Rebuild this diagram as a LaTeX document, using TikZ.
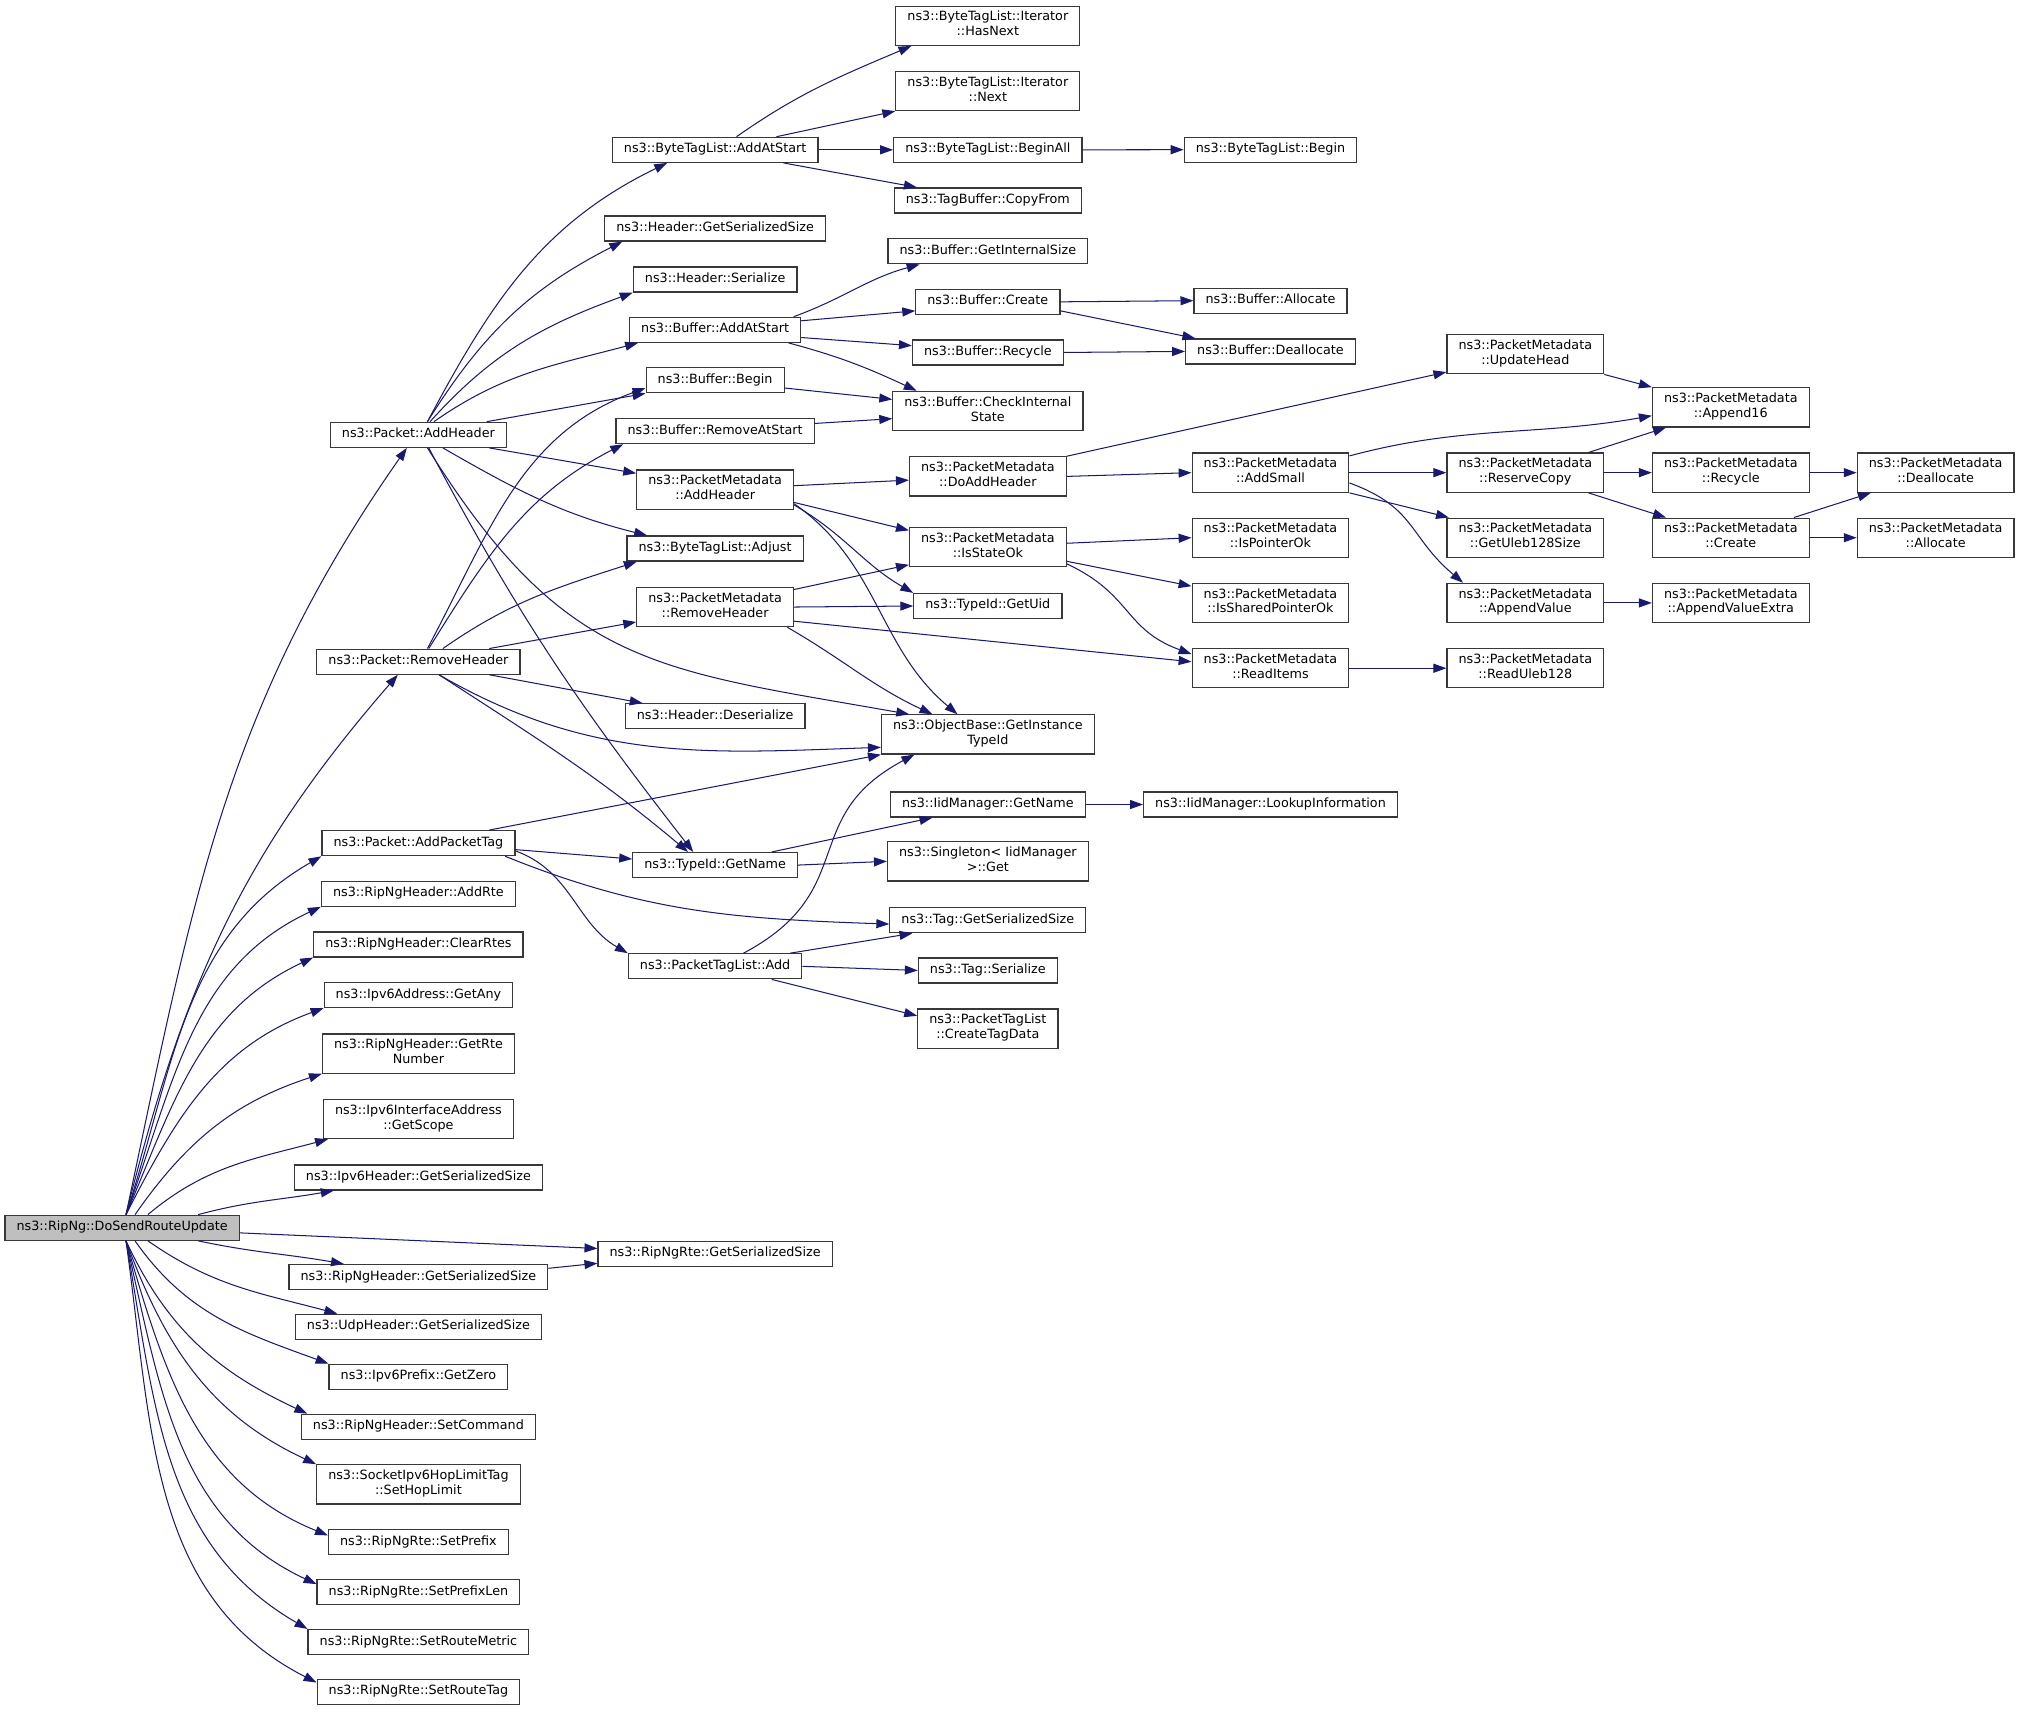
\documentclass[tikz,border=0pt]{standalone}
\usepackage{fontspec}
\setmainfont{DejaVu Sans}
\usetikzlibrary{arrows.meta}
\definecolor{edgeblue}{HTML}{191970}

\begin{document}
\begin{tikzpicture}[x=1pt,y=1pt,
    >={Triangle[length=10pt,width=7pt]},
    fn/.style={draw=black!78,line width=0.95pt,fill=white,inner xsep=9pt,inner ysep=3.9pt,
        align=center,font=\fontsize{9.9}{11.6}\selectfont,
        execute at begin node=\strut,execute at end node=\strut},
    root/.style={fn,fill=black!25},
    call/.style={->,draw=edgeblue,line width=0.8pt}]
    \useasboundingbox (0,0) rectangle (1568,-1334.4);

    \node[root] (dsru) at (94.8,-953) {ns3::RipNg::DoSendRouteUpdate};

    \node[fn] (pAddHeader) at (324.8,-337.5) {ns3::Packet::AddHeader};
    \node[fn] (pRemoveHeader) at (324.8,-513.6) {ns3::Packet::RemoveHeader};
    \node[fn] (pAddPacketTag) at (324.8,-654.5) {ns3::Packet::AddPacketTag};
    \node[fn] (hAddRte) at (324.8,-693.7) {ns3::RipNgHeader::AddRte};
    \node[fn] (hClearRtes) at (324.8,-733.1) {ns3::RipNgHeader::ClearRtes};
    \node[fn] (aGetAny) at (324.8,-772.4) {ns3::Ipv6Address::GetAny};
    \node[fn] (hGetRteNumber) at (324.8,-817.8) {ns3::RipNgHeader::GetRte\\Number};
    \node[fn] (iGetScope) at (324.8,-868.6) {ns3::Ipv6InterfaceAddress\\::GetScope};
    \node[fn] (i6GetSerSize) at (324.8,-914) {ns3::Ipv6Header::GetSerializedSize};
    \node[fn] (hGetSerSize) at (324.8,-991.3) {ns3::RipNgHeader::GetSerializedSize};
    \node[fn] (uGetSerSize) at (324.8,-1029.9) {ns3::UdpHeader::GetSerializedSize};
    \node[fn] (pGetZero) at (324.8,-1068.7) {ns3::Ipv6Prefix::GetZero};
    \node[fn] (hSetCommand) at (324.8,-1107.5) {ns3::RipNgHeader::SetCommand};
    \node[fn] (tSetHopLimit) at (324.8,-1152.2) {ns3::SocketIpv6HopLimitTag\\::SetHopLimit};
    \node[fn] (rSetPrefix) at (324.8,-1197) {ns3::RipNgRte::SetPrefix};
    \node[fn] (rSetPrefixLen) at (324.8,-1235.8) {ns3::RipNgRte::SetPrefixLen};
    \node[fn] (rSetRouteMetric) at (324.8,-1274.6) {ns3::RipNgRte::SetRouteMetric};
    \node[fn] (rSetRouteTag) at (324.8,-1313.2) {ns3::RipNgRte::SetRouteTag};

    \node[fn] (btlAddAtStart) at (555.1,-116.3) {ns3::ByteTagList::AddAtStart};
    \node[fn] (hdrGetSerSize) at (555.1,-177.4) {ns3::Header::GetSerializedSize};
    \node[fn] (hdrSerialize) at (555.1,-217) {ns3::Header::Serialize};
    \node[fn] (bufAddAtStart) at (555.1,-256) {ns3::Buffer::AddAtStart};
    \node[fn] (bufBegin) at (555.1,-295.2) {ns3::Buffer::Begin};
    \node[fn] (bufRemoveAtStart) at (555.1,-334.7) {ns3::Buffer::RemoveAtStart};
    \node[fn] (pmAddHeader) at (555.1,-380) {ns3::PacketMetadata\\::AddHeader};
    \node[fn] (btlAdjust) at (555.1,-425.8) {ns3::ByteTagList::Adjust};
    \node[fn] (pmRemoveHeader) at (555.1,-471.2) {ns3::PacketMetadata\\::RemoveHeader};
    \node[fn] (hdrDeserialize) at (555.1,-556) {ns3::Header::Deserialize};
    \node[fn] (tidGetName) at (555.1,-671.5) {ns3::TypeId::GetName};
    \node[fn] (ptlAdd) at (555.1,-750.1) {ns3::PacketTagList::Add};
    \node[fn] (rteGetSerSize) at (555.1,-973.1) {ns3::RipNgRte::GetSerializedSize};

    \node[fn] (itHasNext) at (766.8,-20) {ns3::ByteTagList::Iterator\\::HasNext};
    \node[fn] (itNext) at (766.8,-70.6) {ns3::ByteTagList::Iterator\\::Next};
    \node[fn] (btlBeginAll) at (766.8,-116.3) {ns3::ByteTagList::BeginAll};
    \node[fn] (tbCopyFrom) at (766.8,-155.6) {ns3::TagBuffer::CopyFrom};
    \node[fn] (bufGetInternalSize) at (766.8,-195.1) {ns3::Buffer::GetInternalSize};
    \node[fn] (bufCreate) at (766.8,-234.3) {ns3::Buffer::Create};
    \node[fn] (bufRecycle) at (766.8,-273.6) {ns3::Buffer::Recycle};
    \node[fn] (bufCheckInternal) at (766.8,-319) {ns3::Buffer::CheckInternal\\State};
    \node[fn] (pmDoAddHeader) at (766.8,-369.8) {ns3::PacketMetadata\\::DoAddHeader};
    \node[fn] (pmIsStateOk) at (766.8,-424.7) {ns3::PacketMetadata\\::IsStateOk};
    \node[fn] (tidGetUid) at (766.8,-470.4) {ns3::TypeId::GetUid};
    \node[fn] (obGetInstanceTypeId) at (766.8,-570.1) {ns3::ObjectBase::GetInstance\\TypeId};
    \node[fn] (iidGetName) at (766.8,-624.5) {ns3::IidManager::GetName};
    \node[fn] (sgGet) at (766.8,-668.6) {ns3::Singleton< IidManager\\>::Get};
    \node[fn] (tagGetSerSize) at (766.8,-714.3) {ns3::Tag::GetSerializedSize};
    \node[fn] (tagSerialize) at (766.8,-753.3) {ns3::Tag::Serialize};
    \node[fn] (ptlCreateTagData) at (766.8,-798.5) {ns3::PacketTagList\\::CreateTagData};

    \node[fn] (btlBegin) at (986.2,-116.2) {ns3::ByteTagList::Begin};
    \node[fn] (bufAllocate) at (986.2,-233.4) {ns3::Buffer::Allocate};
    \node[fn] (bufDeallocate) at (986.2,-272.8) {ns3::Buffer::Deallocate};
    \node[fn] (pmAddSmall) at (986.2,-366.9) {ns3::PacketMetadata\\::AddSmall};
    \node[fn] (pmIsPointerOk) at (986.2,-417.4) {ns3::PacketMetadata\\::IsPointerOk};
    \node[fn] (pmIsSharedPointerOk) at (986.2,-468) {ns3::PacketMetadata\\::IsSharedPointerOk};
    \node[fn] (pmReadItems) at (986.2,-518.7) {ns3::PacketMetadata\\::ReadItems};
    \node[fn] (iidLookup) at (986.2,-624.5) {ns3::IidManager::LookupInformation};

    \node[fn] (pmUpdateHead) at (1184,-275) {ns3::PacketMetadata\\::UpdateHead};
    \node[fn] (pmReserveCopy) at (1184,-366.9) {ns3::PacketMetadata\\::ReserveCopy};
    \node[fn] (pmGetUleb128Size) at (1184,-417.4) {ns3::PacketMetadata\\::GetUleb128Size};
    \node[fn] (pmAppendValue) at (1184,-468) {ns3::PacketMetadata\\::AppendValue};
    \node[fn] (pmReadUleb128) at (1184,-518.7) {ns3::PacketMetadata\\::ReadUleb128};

    \node[fn] (pmAppend16) at (1343.5,-316.2) {ns3::PacketMetadata\\::Append16};
    \node[fn] (pmRecycle) at (1343.5,-366.9) {ns3::PacketMetadata\\::Recycle};
    \node[fn] (pmCreate) at (1343.5,-417.4) {ns3::PacketMetadata\\::Create};
    \node[fn] (pmAppendValueExtra) at (1343.5,-468) {ns3::PacketMetadata\\::AppendValueExtra};

    \node[fn] (pmDeallocate) at (1502.5,-366.9) {ns3::PacketMetadata\\::Deallocate};
    \node[fn] (pmAllocate) at (1502.5,-417.4) {ns3::PacketMetadata\\::Allocate};

    \draw[call] ([xshift=3pt]dsru.north) to[out=78,in=235] ([xshift=-9pt]pAddHeader.south);
    \draw[call] ([xshift=3pt]dsru.north) to[out=76,in=229] ([xshift=-16pt]pRemoveHeader.south);
    \draw[call] ([xshift=3pt]dsru.north) to[out=72,in=210] (pAddPacketTag.south west);
    \draw[call] ([xshift=3pt]dsru.north) to[out=70,in=205] (hAddRte.south west);
    \draw[call] ([xshift=3pt]dsru.north) to[out=67,in=205] (hClearRtes.south west);
    \draw[call] ([xshift=3pt]dsru.north) to[out=63,in=200] (aGetAny.south west);
    \draw[call] ([xshift=10pt]dsru.north) to[out=55,in=198] (hGetRteNumber.south west);
    \draw[call] ([xshift=20pt]dsru.north) to[out=40,in=195] ([xshift=4pt]iGetScope.south west);
    \draw[call] ([xshift=59pt]dsru.north) to[out=15,in=190] ([xshift=31pt]i6GetSerSize.south west);
    \draw[call] ([yshift=-4pt]dsru.east) -- ([yshift=4pt]rteGetSerSize.west);
    \draw[call] ([xshift=59pt]dsru.south) to[out=-12,in=170] ([xshift=43pt]hGetSerSize.north west);
    \draw[call] ([xshift=20pt]dsru.south) to[out=-35,in=165] ([xshift=33pt]uGetSerSize.north west);
    \draw[call] ([xshift=10pt]dsru.south) to[out=-55,in=160] (pGetZero.north west);
    \draw[call] ([xshift=3pt]dsru.south) to[out=-65,in=155] ([xshift=5pt]hSetCommand.north west);
    \draw[call] ([xshift=3pt]dsru.south) to[out=-70,in=155] (tSetHopLimit.north west);
    \draw[call] ([xshift=3pt]dsru.south) to[out=-74,in=158] ([yshift=-5pt]rSetPrefix.north west);
    \draw[call] ([xshift=3pt]dsru.south) to[out=-77,in=155] ([yshift=-4pt]rSetPrefixLen.north west);
    \draw[call] ([xshift=3pt]dsru.south) to[out=-80,in=150] (rSetRouteMetric.north west);
    \draw[call] ([xshift=3pt]dsru.south) to[out=-82,in=153] ([yshift=-3pt]rSetRouteTag.north west);

    \draw[call] ([xshift=7pt]pAddHeader.north) to[out=62,in=206] ([xshift=43pt]btlAddAtStart.south west);
    \draw[call] ([xshift=7pt]pAddHeader.north) to[out=58,in=207] ([xshift=14pt]hdrGetSerSize.south west);
    \draw[call] ([xshift=9pt]pAddHeader.north) to[out=48,in=200] (hdrSerialize.south west);
    \draw[call] ([xshift=12pt]pAddHeader.north) to[out=35,in=195] ([xshift=7pt]bufAddAtStart.south west);
    \draw[call] ([xshift=53pt]pAddHeader.north) -- (bufBegin.south west);
    \draw[call] ([xshift=55pt]pAddHeader.south) -- ([yshift=12.6pt]pmAddHeader.west);
    \draw[call] ([xshift=19pt]pAddHeader.south) to[out=-30,in=166] ([xshift=16pt]btlAdjust.north west);
    \draw[call] ([xshift=7pt]pAddHeader.south) to[out=-58,in=170,looseness=1.2] ([xshift=22pt]obGetInstanceTypeId.north west);
    \draw[call] ([xshift=8pt]pAddHeader.south) to[out=-62,in=128] ([xshift=-17pt]tidGetName.north);

    \draw[call] ([xshift=7pt]pRemoveHeader.north) to[out=62,in=200] ([yshift=-6pt]bufBegin.west);
    \draw[call] ([xshift=8pt]pRemoveHeader.north) to[out=58,in=207] ([xshift=6pt]bufRemoveAtStart.south west);
    \draw[call] ([xshift=19pt]pRemoveHeader.north) to[out=35,in=198] ([xshift=8pt]btlAdjust.south west);
    \draw[call] ([xshift=55pt]pRemoveHeader.north) -- ([yshift=-11.6pt]pmRemoveHeader.west);
    \draw[call] ([xshift=55pt]pRemoveHeader.south) -- ([xshift=14pt]hdrDeserialize.north west);
    \draw[call] ([xshift=16pt]pRemoveHeader.south) to[out=-30,in=182] ([yshift=-10pt]obGetInstanceTypeId.west);
    \draw[call] ([xshift=16pt]pRemoveHeader.south) to[out=-33,in=140] ([xshift=-21pt]tidGetName.north);

    \draw[call] ([xshift=55pt]pAddPacketTag.north) -- (obGetInstanceTypeId.south west);
    \draw[call] ([yshift=-5pt]pAddPacketTag.east) -- ([yshift=4.7pt]tidGetName.west);
    \draw[call] ([xshift=-8pt]pAddPacketTag.south east) to[out=-22,in=178] ([yshift=-3pt]tagGetSerSize.west);
    \draw[call] ([yshift=-6pt]pAddPacketTag.east) to[out=-20,in=150] (ptlAdd.north west);
    \draw[call] ([yshift=6.8pt]hGetSerSize.east) -- ([yshift=-7.5pt]rteGetSerSize.west);

    \draw[call] ([xshift=16.6pt]btlAddAtStart.north) to[out=35,in=203] ([xshift=12.5pt]itHasNext.south west);
    \draw[call] ([xshift=47.6pt]btlAddAtStart.north) -- (itNext.south west);
    \draw[call] ([xshift=53pt]btlAddAtStart.south) -- ([xshift=18pt]tbCopyFrom.north west);

    \draw[call] ([xshift=61pt]bufAddAtStart.north) to[out=20,in=195] ([xshift=25pt]bufGetInternalSize.south west);
    \draw[call] ([yshift=7pt]bufAddAtStart.east) -- ([yshift=-7pt]bufCreate.west);
    \draw[call] ([yshift=-6pt]bufAddAtStart.east) -- ([yshift=5.3pt]bufRecycle.west);
    \draw[call] ([xshift=57pt]bufAddAtStart.south) to[out=-15,in=155] ([xshift=19pt]bufCheckInternal.north west);
    \draw[call] ([yshift=-6pt]bufBegin.east) -- ([yshift=9pt]bufCheckInternal.west);
    \draw[call] ([yshift=6pt]bufRemoveAtStart.east) -- ([yshift=-6pt]bufCheckInternal.west);
    \draw[call] ([yshift=-7pt]bufCreate.east) -- ([xshift=8pt]bufDeallocate.north west);

    \draw[call] ([yshift=3pt]pmAddHeader.east) -- ([yshift=-2.9pt]pmDoAddHeader.west);
    \draw[call] ([yshift=-10pt]pmAddHeader.east) -- ([yshift=13pt]pmIsStateOk.west);
    \draw[call] ([yshift=-12pt]pmAddHeader.east) to[out=-30,in=150] (tidGetUid.north west);
    \draw[call] ([yshift=-11pt]pmAddHeader.east) to[out=-35,in=140] ([xshift=59.5pt]obGetInstanceTypeId.north west);
    \draw[call] ([yshift=13.6pt]pmRemoveHeader.east) -- ([yshift=-13.7pt]pmIsStateOk.west);
    \draw[call] ([yshift=-11pt]pmRemoveHeader.east) -- ([yshift=5pt]pmReadItems.west);
    \draw[call] ([xshift=56pt]pmRemoveHeader.south) to[out=-30,in=155] ([xshift=40pt]obGetInstanceTypeId.north west);

    \draw[call] (pmDoAddHeader.north east) -- ([yshift=-13.8pt]pmUpdateHead.west);
    \draw[call] ([yshift=3pt]pmIsStateOk.east) -- (pmIsPointerOk.west);
    \draw[call] ([yshift=-11pt]pmIsStateOk.east) -- ([yshift=13pt]pmIsSharedPointerOk.west);
    \draw[call] ([yshift=-13pt]pmIsStateOk.east) to[out=-25,in=160,looseness=1.2] ([yshift=11pt]pmReadItems.west);

    \draw[call] ([yshift=13pt]pmAddSmall.east) to[out=15,in=190] ([yshift=-6.5pt]pmAppend16.west);
    \draw[call] (pmAddSmall.south east) -- ([xshift=2pt]pmGetUleb128Size.north west);
    \draw[call] ([yshift=-8pt]pmAddSmall.east) to[out=-20,in=140,looseness=1.2] ([xshift=13pt]pmAppendValue.north west);
    \draw[call] (pmUpdateHead.south east) -- (pmAppend16.north west);
    \draw[call] ([xshift=49pt]pmReserveCopy.north) -- ([xshift=11pt]pmAppend16.south west);
    \draw[call] ([xshift=49pt]pmReserveCopy.south) -- ([xshift=11pt]pmCreate.north west);
    \draw[call] ([xshift=49pt]pmCreate.north) -- ([xshift=11pt]pmDeallocate.south west);

    \draw[call] ([xshift=44pt]tidGetName.north) -- ([xshift=33pt]iidGetName.south west);
    \draw[call] ([xshift=22pt]ptlAdd.north) to[out=28,in=208,looseness=1.3] ([xshift=26pt]obGetInstanceTypeId.south west);
    \draw[call] ([xshift=58pt]ptlAdd.north) -- ([xshift=18pt]tagGetSerSize.south west);
    \draw[call] ([xshift=44pt]ptlAdd.south) -- ([yshift=10pt]ptlCreateTagData.west);

    \foreach \a/\b in {btlAddAtStart/btlBeginAll, btlBeginAll/btlBegin, bufCreate/bufAllocate,
        bufRecycle/bufDeallocate, pmRemoveHeader/tidGetUid, pmDoAddHeader/pmAddSmall,
        pmAddSmall/pmReserveCopy, pmReserveCopy/pmRecycle, pmRecycle/pmDeallocate,
        pmCreate/pmAllocate, pmAppendValue/pmAppendValueExtra, pmReadItems/pmReadUleb128,
        tidGetName/sgGet, iidGetName/iidLookup, ptlAdd/tagSerialize}
        {
            \draw[call] (\a.east) -- (\b.west);
        }
\end{tikzpicture}
\end{document}
